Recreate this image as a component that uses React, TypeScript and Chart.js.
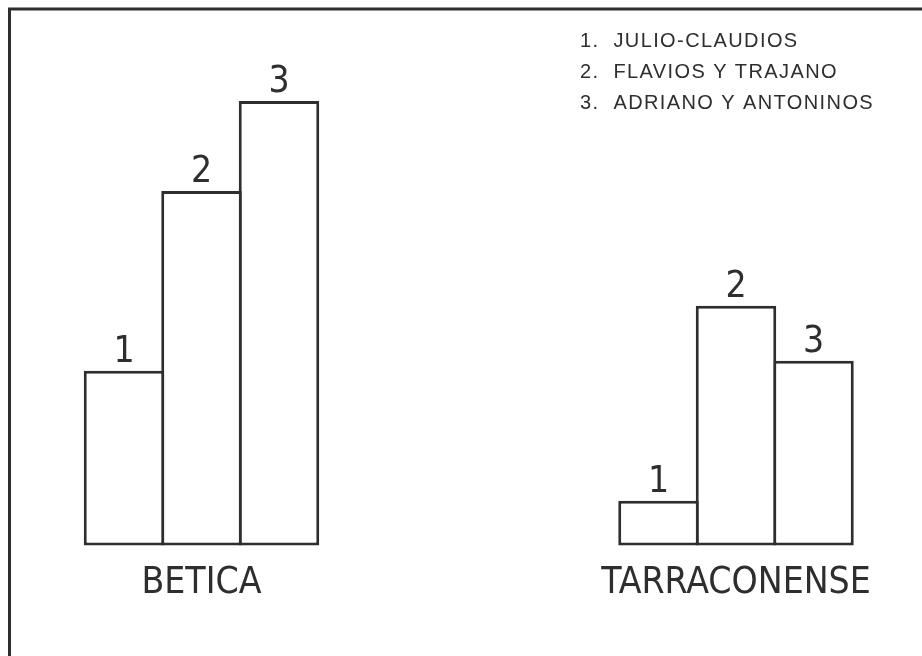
import { useEffect, useRef } from "react";
import { Chart, registerables } from "chart.js";

Chart.register(...registerables);

// ---- data (arbitrary height units) ----
const provinces = ["BETICA", "TARRACONENSE"];
const periods = ["JULIO-CLAUDIOS", "FLAVIOS Y TRAJANO", "ADRIANO Y ANTONINOS"];
const julioClaudios = [35, 9];
const flaviosTrajano = [71, 48];
const adrianoAntoninos = [89, 37];
const seriesValues = [julioClaudios, flaviosTrajano, adrianoAntoninos];
const yMax = 100;

const INK = "#2e2e2e";
const STENCIL = '"DejaVu Sans Condensed", "DejaVu Sans", sans-serif';
const LEGEND_FONT = '"Liberation Sans", Arial, sans-serif';

const framePlugin = {
  id: "frame",
  beforeDraw(chart: any) {
    const { ctx, width, height } = chart;
    ctx.save();
    ctx.fillStyle = "#ffffff";
    ctx.fillRect(0, 0, width, height);
    ctx.strokeStyle = INK;
    ctx.lineWidth = 3;
    ctx.lineCap = "square";
    ctx.beginPath();
    ctx.moveTo(9.5, height + 2);
    ctx.lineTo(9.5, 9);
    ctx.lineTo(width + 2, 9);
    ctx.stroke();
    ctx.restore();
  },
};

const barNumberPlugin = {
  id: "barNumbers",
  afterDatasetsDraw(chart: any) {
    const { ctx } = chart;
    ctx.save();
    ctx.fillStyle = INK;
    ctx.font = `37px ${STENCIL}`;
    ctx.textAlign = "center";
    ctx.textBaseline = "alphabetic";
    chart.data.datasets.forEach((_ds: any, i: number) => {
      const meta = chart.getDatasetMeta(i);
      meta.data.forEach((bar: any) => {
        ctx.fillText(String(i + 1), bar.x, bar.y - 9);
      });
    });
    ctx.restore();
  },
};

const periodLegendPlugin = {
  id: "periodLegend",
  afterDraw(chart: any) {
    const { ctx } = chart;
    ctx.save();
    ctx.fillStyle = INK;
    ctx.font = `20px ${LEGEND_FONT}`;
    try {
      (ctx as any).letterSpacing = "1.4px";
    } catch (e) {}
    ctx.textAlign = "left";
    ctx.textBaseline = "middle";
    periods.forEach((p, i) => {
      ctx.fillText(`${i + 1}.  ${p}`, 580, 41 + i * 31);
    });
    ctx.restore();
  },
};

export default function App() {
  const ref = useRef<HTMLCanvasElement | null>(null);

  useEffect(() => {
    if (!ref.current) return;
    const chart = new Chart(ref.current, {
      type: "bar",
      data: {
        labels: provinces,
        datasets: seriesValues.map((vals, i) => ({
          label: periods[i],
          data: vals,
          backgroundColor: "#ffffff",
          borderColor: INK,
          borderWidth: 3,
          borderSkipped: false,
          clip: false as any,
        })),
      },
      options: {
        animation: false,
        responsive: false,
        devicePixelRatio: 1,
        events: [],
        categoryPercentage: 0.435,
        barPercentage: 1.0387,
        layout: { padding: { left: 201.5, right: 186, top: 46, bottom: 34 } },
        plugins: {
          legend: { display: false },
          tooltip: { enabled: false },
          title: { display: false },
        },
        scales: {
          x: {
            type: "category",
            offset: false,
            grid: { display: false, drawTicks: false },
            border: { display: false },
            ticks: {
              autoSkip: false,
              maxRotation: 0,
              padding: 16,
              color: INK,
              font: { family: STENCIL, size: 37 },
            },
          },
          y: { display: false, min: 0, max: yMax },
        },
      } as any,
      plugins: [framePlugin, barNumberPlugin, periodLegendPlugin],
    });
    return () => chart.destroy();
  }, []);

  return (
    <div style={{ position: "fixed", left: 0, top: 0, width: 922, height: 656, background: "#fff" }}>
      <canvas ref={ref} width={922} height={656} style={{ display: "block" }} />
    </div>
  );
}
